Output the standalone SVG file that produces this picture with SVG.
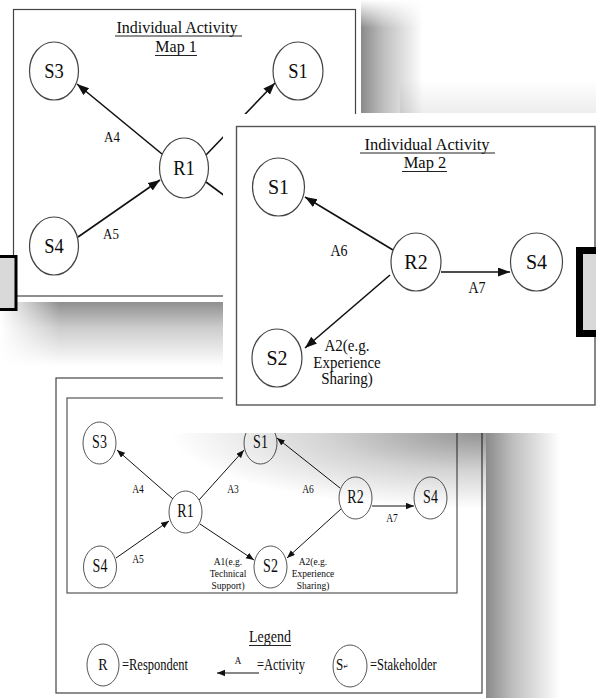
<svg xmlns="http://www.w3.org/2000/svg" width="596" height="698" viewBox="0 0 596 698">
<style>
.s{font-family:"Liberation Serif","Times New Roman",serif;fill:#0d0d0d}
.c{text-anchor:middle}
.nd{fill:none;stroke:#444;stroke-width:1.2}
.nd2{fill:none;stroke:#555;stroke-width:1}
.e1{stroke:#111;stroke-width:1.6;fill:none;marker-end:url(#ah)}
.e2{stroke:#111;stroke-width:1;fill:none;marker-end:url(#as)}
.ul{stroke:#222;stroke-width:1}
.sym{font-family:"DejaVu Sans",sans-serif}
</style>
<defs>
<marker id="ah" markerUnits="userSpaceOnUse" markerWidth="13" markerHeight="10" refX="12" refY="4.5" orient="auto"><path d="M0,0 L12,4.5 L0,9 z" fill="#111"/></marker>
<marker id="as" markerUnits="userSpaceOnUse" markerWidth="9" markerHeight="7" refX="8" refY="3.2" orient="auto"><path d="M0,0 L8,3.2 L0,6.4 z" fill="#111"/></marker>
<linearGradient id="gh" x1="0" y1="0" x2="1" y2="0"><stop offset="0" stop-color="#000" stop-opacity="0.46"/><stop offset="0.35" stop-color="#000" stop-opacity="0.26"/><stop offset="1" stop-color="#000" stop-opacity="0"/></linearGradient>
<linearGradient id="gv" x1="0" y1="0" x2="0" y2="1"><stop offset="0" stop-color="#000" stop-opacity="0.44"/><stop offset="0.4" stop-color="#000" stop-opacity="0.2"/><stop offset="1" stop-color="#000" stop-opacity="0"/></linearGradient>
<linearGradient id="wl" x1="0" y1="0" x2="1" y2="0"><stop offset="0" stop-color="#fff" stop-opacity="1"/><stop offset="1" stop-color="#fff" stop-opacity="0"/></linearGradient>
<linearGradient id="wt" x1="0" y1="0" x2="0" y2="1"><stop offset="0" stop-color="#fff" stop-opacity="1"/><stop offset="1" stop-color="#fff" stop-opacity="0"/></linearGradient>
<linearGradient id="gup" x1="0" y1="0" x2="0" y2="1"><stop offset="0" stop-color="#000" stop-opacity="0"/><stop offset="1" stop-color="#000" stop-opacity="0.07"/></linearGradient>
<radialGradient id="rs" gradientUnits="userSpaceOnUse" cx="0" cy="0" r="1" gradientTransform="translate(480 433) scale(310 76)"><stop offset="0" stop-color="#000" stop-opacity="0.42"/><stop offset="0.5" stop-color="#000" stop-opacity="0.17"/><stop offset="1" stop-color="#000" stop-opacity="0"/></radialGradient>
</defs>
<rect x="0" y="0" width="596" height="698" fill="#fff"/>

<rect x="486" y="385" width="74" height="313" fill="url(#gh)"/>

<g id="combined-map">
<rect x="56" y="378" width="426" height="315" fill="#fff" stroke="#444" stroke-width="1.2"/>
<rect x="67" y="398" width="390" height="195" fill="none" stroke="#555" stroke-width="1.2"/>
</g>
<g id="connectors-combined">
<line class="e2" x1="173" y1="499" x2="117" y2="450"/>
<line class="e2" x1="199" y1="500" x2="244" y2="450"/>
<line class="e2" x1="340" y1="488" x2="277" y2="438"/>
<line class="e2" x1="372" y1="506" x2="414" y2="506"/>
<line class="e2" x1="116" y1="558" x2="169" y2="521"/>
<line class="e2" x1="200" y1="524" x2="254" y2="560"/>
<line class="e2" x1="341" y1="509" x2="287" y2="558"/>
<g font-size="9.5">
<text class="s c" transform="translate(138 493) scale(1 1.25)">A4</text>
<text class="s c" transform="translate(233 493) scale(1 1.25)">A3</text>
<text class="s c" transform="translate(308 493) scale(1 1.25)">A6</text>
<text class="s c" transform="translate(392 522) scale(1 1.25)">A7</text>
<text class="s c" transform="translate(138 563) scale(1 1.25)">A5</text>
<text class="s c" transform="translate(228 565) scale(1 1.15)">A1(e.g.</text>
<text class="s c" transform="translate(228 577) scale(1 1.15)">Technical</text>
<text class="s c" transform="translate(228 588.5) scale(1 1.15)">Support)</text>
<text class="s c" transform="translate(313 565) scale(1 1.15)">A2(e.g.</text>
<text class="s c" transform="translate(313 577) scale(1 1.15)">Experience</text>
<text class="s c" transform="translate(313 588.5) scale(1 1.15)">Sharing)</text>
</g>
</g>
<g id="c-S3"><ellipse class="nd2" cx="99.5" cy="443" rx="16.5" ry="21"/><text class="s c" font-size="14" transform="translate(99.5 448) scale(1 1.3)">S3</text></g>
<g id="c-S1"><ellipse class="nd2" cx="260.5" cy="443" rx="16.5" ry="21"/><text class="s c" font-size="14" transform="translate(260.5 448) scale(1 1.3)">S1</text></g>
<g id="c-R1"><ellipse class="nd2" cx="185.5" cy="512" rx="16.5" ry="21"/><text class="s c" font-size="14" transform="translate(185.5 517) scale(1 1.3)">R1</text></g>
<g id="c-R2"><ellipse class="nd2" cx="355.5" cy="498" rx="16.5" ry="21"/><text class="s c" font-size="14" transform="translate(355.5 503) scale(1 1.3)">R2</text></g>
<g id="c-S4r"><ellipse class="nd2" cx="430.5" cy="498" rx="16.5" ry="21"/><text class="s c" font-size="14" transform="translate(430.5 503) scale(1 1.3)">S4</text></g>
<g id="c-S4l"><ellipse class="nd2" cx="100" cy="567" rx="16.5" ry="21"/><text class="s c" font-size="14" transform="translate(100 572) scale(1 1.3)">S4</text></g>
<g id="c-S2"><ellipse class="nd2" cx="270.5" cy="567" rx="16.5" ry="21"/><text class="s c" font-size="14" transform="translate(270.5 572) scale(1 1.3)">S2</text></g>

<g id="legend">
<text class="s c" font-size="14" transform="translate(270 642) scale(1 1.26)">Legend</text>
<line class="ul" x1="249" y1="645.5" x2="291" y2="645.5"/>
<ellipse class="nd2" cx="103" cy="665" rx="16" ry="21"/>
<text class="s c" font-size="14" transform="translate(103 670) scale(1 1.26)">R</text>
<text class="s" font-size="12.5" transform="translate(122 670) scale(1 1.26)">=Respondent</text>
<line class="e2" x1="259" y1="673" x2="217" y2="673"/>
<text class="s c" font-size="9" transform="translate(238 664) scale(1 1.26)">A</text>
<text class="s" font-size="12.5" transform="translate(257 670) scale(1 1.26)">=Activity</text>
<ellipse class="nd2" cx="350" cy="666" rx="17" ry="21"/>
<text class="s" font-size="13" transform="translate(336 670) scale(1 1.26)">S<tspan class="sym" font-size="6" dy="-1">↵</tspan></text>
<text class="s" font-size="12.5" transform="translate(370 670) scale(1 1.26)">=Stakeholder</text>
</g>

<rect x="56" y="433" width="430" height="90" fill="url(#rs)"/>

<rect x="361" y="0" width="62" height="113" fill="url(#gh)"/>
<rect x="361" y="0" width="62" height="28" fill="url(#wt)"/>
<rect x="0" y="302" width="361" height="64" fill="url(#gv)"/>
<rect x="0" y="302" width="60" height="64" fill="url(#wl)"/>
<rect x="400" y="80" width="196" height="33" fill="url(#gup)"/>

<g id="map1">
<rect x="0" y="0" width="361" height="302" fill="#fff"/>
<rect x="13.5" y="9.5" width="342" height="286.5" fill="none" stroke="#444" stroke-width="1.2"/>
<text class="s c" font-size="16" transform="translate(177 33) scale(1 1.1)">Individual Activity</text>
<line class="ul" x1="115" y1="36" x2="242" y2="36"/>
<text class="s c" font-size="16" transform="translate(176 52) scale(1 1.1)">Map 1</text>
<line class="ul" x1="155" y1="55.5" x2="197" y2="55.5"/>
</g>
<g id="connectors-map1">
<line class="e1" x1="162" y1="154" x2="77" y2="84"/>
<line class="e1" x1="206" y1="155" x2="275" y2="83"/>
<line class="e1" x1="78" y1="237" x2="160" y2="180"/>
<line stroke="#111" stroke-width="1.6" x1="206" y1="182" x2="260" y2="222"/>
<text class="s c" font-size="13" transform="translate(112 142) scale(1 1.12)">A4</text>
<text class="s c" font-size="13" transform="translate(111 239) scale(1 1.12)">A5</text>
</g>
<g id="m1-S3"><ellipse class="nd" cx="54" cy="71" rx="24.5" ry="29"/><text class="s c" font-size="18.5" transform="translate(54 77.5) scale(1 1.12)">S3</text></g>
<g id="m1-S1"><ellipse class="nd" cx="298" cy="71" rx="25" ry="29"/><text class="s c" font-size="18.5" transform="translate(298 77.5) scale(1 1.12)">S1</text></g>
<g id="m1-R1"><ellipse class="nd" cx="184" cy="168" rx="24.5" ry="30"/><text class="s c" font-size="18.5" transform="translate(184 174.5) scale(1 1.12)">R1</text></g>
<g id="m1-S4"><ellipse class="nd" cx="54" cy="246" rx="24.5" ry="29"/><text class="s c" font-size="18.5" transform="translate(54 252.5) scale(1 1.12)">S4</text></g>

<g id="box-left"><rect x="-5" y="256.5" width="21" height="53" fill="#d9d9d9" stroke="#000" stroke-width="3"/></g>

<g id="map2">
<rect x="223" y="114" width="380" height="319" fill="#fff"/>
<rect x="236.5" y="126.5" width="358.5" height="278.5" fill="none" stroke="#555" stroke-width="1.4"/>
<text class="s c" font-size="16.5" x="427" y="149.5">Individual Activity</text>
<line class="ul" x1="360" y1="153" x2="495" y2="153"/>
<text class="s c" font-size="16.5" x="425" y="168">Map 2</text>
<line class="ul" x1="402" y1="171.5" x2="447" y2="171.5"/>
</g>
<g id="connectors-map2">
<line class="e1" x1="393" y1="250" x2="305" y2="197"/>
<line class="e1" x1="441" y1="272" x2="510" y2="272"/>
<line class="e1" x1="390" y1="275" x2="305" y2="348"/>
<text class="s c" font-size="14" transform="translate(339 256) scale(1 1.12)">A6</text>
<text class="s c" font-size="14" transform="translate(477 293) scale(1 1.12)">A7</text>
<text class="s c" font-size="15" transform="translate(347 351) scale(1 1.05)">A2(e.g.</text>
<text class="s c" font-size="15" transform="translate(347 368) scale(1 1.05)">Experience</text>
<text class="s c" font-size="15" transform="translate(347 384) scale(1 1.05)">Sharing)</text>
</g>
<g id="m2-S1"><ellipse class="nd" cx="278.5" cy="187" rx="26" ry="29"/><text class="s c" font-size="20" transform="translate(278.5 194) scale(1 1.1)">S1</text></g>
<g id="m2-R2"><ellipse class="nd" cx="416" cy="262" rx="25" ry="29"/><text class="s c" font-size="20" transform="translate(416 269) scale(1 1.1)">R2</text></g>
<g id="m2-S4"><ellipse class="nd" cx="536.5" cy="262" rx="26" ry="29"/><text class="s c" font-size="20" transform="translate(536.5 269) scale(1 1.1)">S4</text></g>
<g id="m2-S2"><ellipse class="nd" cx="277" cy="358" rx="25" ry="29"/><text class="s c" font-size="20" transform="translate(277 365) scale(1 1.1)">S2</text></g>

<g id="box-right"><rect x="579.5" y="250.5" width="30" height="83" fill="#d9d9d9" stroke="#000" stroke-width="7"/></g>
</svg>
